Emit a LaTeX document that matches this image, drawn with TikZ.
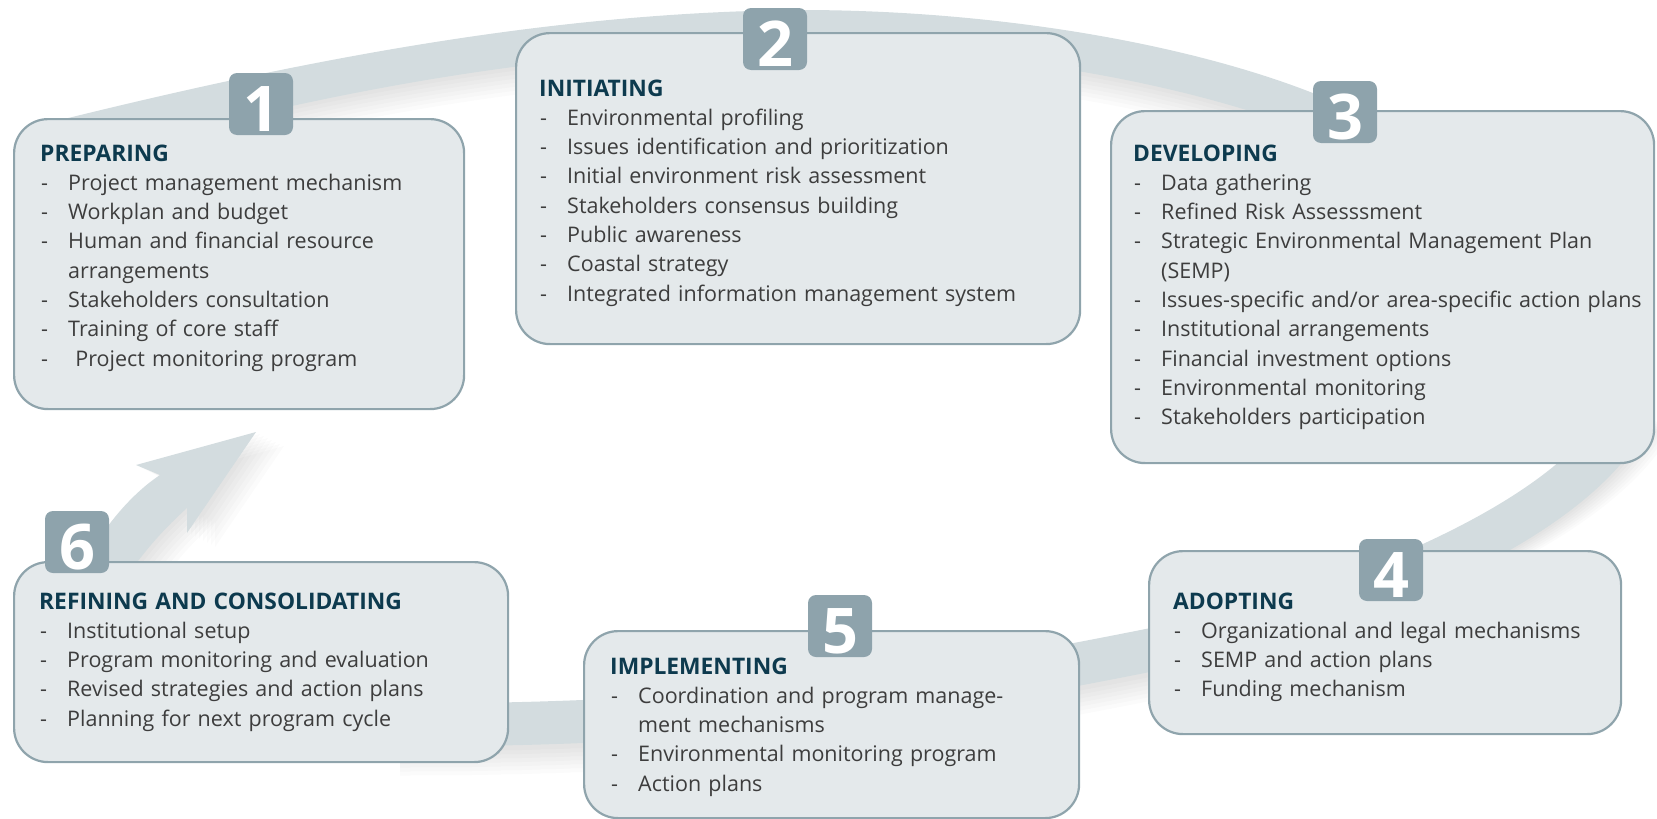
\documentclass[tikz,border=0pt]{standalone}
\usepackage{fontspec}
\setmainfont{Open Sans}
\usetikzlibrary{positioning}

\definecolor{bandgray}{HTML}{D3DCDF}
\definecolor{boxfill}{HTML}{E4E9EB}
\definecolor{boxline}{HTML}{8FA4AC}
\definecolor{badgefill}{HTML}{8EA3AC}
\definecolor{headblue}{HTML}{0D3A4E}
\definecolor{itemgray}{HTML}{3D3D3D}

\newcommand{\stagehead}[1]{{\color{headblue}\fontsize{22.8}{29.3}\selectfont\bfseries #1}\par}
\newcommand{\stageitem}[1]{\hangindent=28pt\hangafter=1\makebox[28pt][l]{\hspace{1pt}-}#1\par}

\begin{document}
\begin{tikzpicture}[x=1pt,y=-1pt,
  stagebox/.style={draw=boxline, fill=boxfill, line width=2.2pt, rounded corners=34pt, anchor=north west, inner sep=0pt},
  stagetext/.style={anchor=base west, text width=600pt, inner sep=0pt, text=itemgray, font=\fontsize{21.5}{29.3}\selectfont\raggedright},
  badge/.style={fill=badgefill, rounded corners=8pt, minimum width=64pt, minimum height=62pt, inner sep=0pt, text=white, font=\fontsize{63}{63}\selectfont\bfseries, text height=55pt, text depth=0pt},
  bandshadow/.style={fill=black, opacity=0.014},
  lineshadow/.style={draw=black, opacity=0.014, line width=45pt},
  band/.style={draw=bandgray, line width=45pt}
]
\useasboundingbox (0,0) rectangle (1657,819);

% shadows of the cycle
\foreach \s in {4,8,...,28} {
  \fill[bandshadow, shift={(0,\s)}] (40,125) .. controls (300,60) and (550,12) .. (800,10) .. controls (1000,10) and (1200,45) .. (1330,100) -- (1330,140) .. controls (1200,85) and (1000,48) .. (800,48) .. controls (600,48) and (400,75) .. (150,140) -- cycle;
  \draw[lineshadow, shift={(\s,0)}] (1625,420) .. controls (1590,480) and (1510,530) .. (1420,570);
  \draw[lineshadow, shift={(0,\s)}] (1250,630) .. controls (1000,680) and (800,725) .. (400,725);
  \fill[bandshadow, shift={(\s,0.5*\s)}] (75,580) .. controls (100,530) and (130,495) .. (160,475) -- (136,465) -- (256,432) -- (187,533) -- (187,508) .. controls (165,528) and (150,545) .. (135,565) -- cycle;
}

% cycle band
\fill[bandgray] (40,125) .. controls (300,60) and (550,12) .. (800,10) .. controls (1000,10) and (1200,45) .. (1330,100) -- (1330,140) .. controls (1200,85) and (1000,48) .. (800,48) .. controls (600,48) and (400,75) .. (150,140) -- cycle;
\draw[band] (1625,420) .. controls (1590,480) and (1510,530) .. (1420,570);
\draw[band, line width=43pt] (1250,630) .. controls (1000,680) and (800,725) .. (400,725);
% arrow back to preparing
\fill[bandgray] (75,580) .. controls (100,530) and (130,495) .. (160,475) -- (136,465) -- (256,432) -- (187,533) -- (187,508) .. controls (165,528) and (150,545) .. (135,565) -- cycle;

% preparing box
\node[stagebox, minimum width=450pt, minimum height=290pt] (prep) at (13,118) {};
\node[stagetext] (preptext) at ([shift={(27,43)}]prep.north west) {%
  \stagehead{PREPARING}
  \stageitem{Project management mechanism}
  \stageitem{Workplan and budget}
  \stageitem{Human and financial resource\newline arrangements}
  \stageitem{Stakeholders consultation}
  \stageitem{Training of core staff}
  \stageitem{\ Project monitoring program}};
\node[badge] (b1) at (261,104) {1};

% initiating box
\node[stagebox, minimum width=564pt, minimum height=311pt] (init) at (515,32) {};
\node[stagetext] (inittext) at ([shift={(24,64)}]init.north west) {%
  \stagehead{INITIATING}
  \stageitem{Environmental profiling}
  \stageitem{Issues identification and prioritization}
  \stageitem{Initial environment risk assessment}
  \stageitem{Stakeholders consensus building}
  \stageitem{Public awareness}
  \stageitem{Coastal strategy}
  \stageitem{Integrated information management system}};
\node[badge] (b2) at (775,39) {2};

% developing box
\node[stagebox, minimum width=543pt, minimum height=352pt] (dev) at (1110,110) {};
\node[stagetext] (devtext) at ([shift={(23,51)}]dev.north west) {%
  \stagehead{DEVELOPING}
  \stageitem{Data gathering}
  \stageitem{Refined Risk Assesssment}
  \stageitem{Strategic Environmental Management Plan\newline (SEMP)}
  \stageitem{Issues-specific and/or area-specific action plans}
  \stageitem{Institutional arrangements}
  \stageitem{Financial investment options}
  \stageitem{Environmental monitoring}
  \stageitem{Stakeholders participation}};
\node[badge] (b3) at (1345,112) {3};

% adopting box
\node[stagebox, minimum width=472pt, minimum height=183pt] (adopt) at (1148,550) {};
\node[stagetext] (adopttext) at ([shift={(25,59)}]adopt.north west) {%
  \stagehead{ADOPTING}
  \stageitem{Organizational and legal mechanisms}
  \stageitem{SEMP and action plans}
  \stageitem{Funding mechanism}};
\node[badge] (b4) at (1391,570) {4};

% implementing box
\node[stagebox, minimum width=495pt, minimum height=187pt] (impl) at (583,630) {};
\node[stagetext] (impltext) at ([shift={(27,44)}]impl.north west) {%
  \stagehead{IMPLEMENTING}
  \stageitem{Coordination and program manage-\newline ment mechanisms}
  \stageitem{Environmental monitoring program}
  \stageitem{Action plans}};
\node[badge] (b5) at (840,626) {5};

% refining box
\node[stagebox, minimum width=494pt, minimum height=200pt] (refine) at (13,561) {};
\node[stagetext] (refinetext) at ([shift={(26,48)}]refine.north west) {%
  \stagehead{REFINING AND CONSOLIDATING}
  \stageitem{Institutional setup}
  \stageitem{Program monitoring and evaluation}
  \stageitem{Revised strategies and action plans}
  \stageitem{Planning for next program cycle}};
\node[badge] (b6) at (77,542) {6};

\end{tikzpicture}
\end{document}
